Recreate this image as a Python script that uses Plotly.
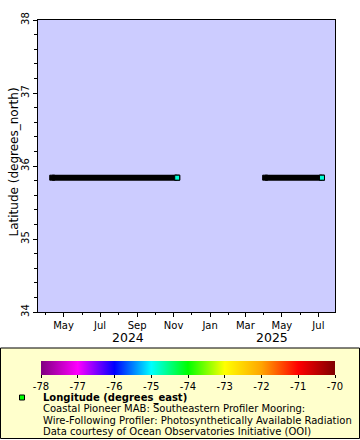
import plotly.graph_objects as go

# ---- data ----
deploy_start = ["2024-04-12", "2025-04-03"]
deploy_end = ["2024-11-07", "2025-07-07"]
latitude = [35.84, 35.84]          # degrees_north
longitude = [-74.84, -74.84]       # degrees_east
cbar_ticks = [-78, -77, -76, -75, -74, -73, -72, -71, -70]
cbar_labels = ["-78", "-77", "-76", "-75", "-74", "-73", "-72", "-71", "-70"]
year_labels = ["2024", "2025"]
year_label_dates = ["2024-08-16", "2025-04-15"]
y_title = "Latitude (degrees_north)"
legend_lines = [
    "<b>Longitude (degrees_east)</b>",
    "Coastal Pioneer MAB: Southeastern Profiler Mooring:",
    "Wire-Following Profiler: Photosynthetically Available Radiation",
    "Data courtesy of Ocean Observatories Initiative (OOI)",
]

rainbow = [
    [0.0, "#800080"], [0.125, "#ff00ff"], [0.25, "#0000ff"], [0.375, "#00ffff"],
    [0.5, "#00ff00"], [0.625, "#ffff00"], [0.75, "#ffa500"], [0.875, "#ff0000"],
    [1.0, "#800000"],
]

W, H = 360, 440
L, R, T, B = 38, 25, 20, 128
PW, PH = W - L - R, H - T - B


def px(x):
    return (x - L) / PW


def py(y):
    return (H - B - y) / PH


# band (deployment) x / y with breaks
bx, by = [], []
for s, e, la in zip(deploy_start, deploy_end, latitude):
    bx += [s, e, None]
    by += [la, la, None]

fig = go.Figure()
fig.add_trace(go.Scatter(
    x=bx, y=by, mode="lines+markers",
    line=dict(color="black", width=6),
    marker=dict(symbol="square", size=5, color="black", line=dict(color="black", width=1)),
    hoverinfo="skip", showlegend=False,
))
fig.add_trace(go.Scatter(
    x=deploy_end, y=latitude, mode="markers",
    marker=dict(
        symbol="square", size=5, color=longitude, cmin=-78, cmax=-70,
        colorscale=rainbow, line=dict(color="black", width=1),
        showscale=True,
        colorbar=dict(
            orientation="h", lenmode="pixels", len=294, thickness=14,
            x=px(188), xanchor="center", y=py(361), yanchor="top",
            xpad=0, ypad=0, outlinewidth=0,
            ticks="outside", ticklen=3, tickcolor="black",
            tickvals=cbar_ticks, ticktext=cbar_labels,
            tickfont=dict(family="DejaVu Sans", size=10, color="black"),
        ),
    ),
    showlegend=False,
))

# legend box
LEG_Y0, LEG_DY = 397.5, 11.5
fig.add_shape(type="rect", xref="paper", yref="paper",
              x0=px(0.5), x1=px(359.5), y0=py(438.5), y1=py(348),
              fillcolor="#ffffcc", line=dict(color="black", width=1), layer="below")
fig.add_shape(type="rect", xref="paper", yref="paper",
              x0=px(19.5), x1=px(24.5), y0=py(LEG_Y0 + 2.5), y1=py(LEG_Y0 - 2.5),
              fillcolor="#00ff00", line=dict(color="black", width=1))

for i, txt in enumerate(legend_lines):
    fig.add_annotation(
        text=txt, xref="paper", yref="paper", x=px(41.5), y=py(LEG_Y0 + LEG_DY * i),
        xanchor="left", yanchor="middle", showarrow=False, borderpad=0,
        font=dict(family="DejaVu Sans", size=10, color="black"),
    )

for lab, d in zip(year_labels, year_label_dates):
    fig.add_annotation(
        text=lab, x=d, xref="x", yref="paper", y=py(337), yanchor="middle",
        showarrow=False, font=dict(family="DejaVu Sans", size=12.5, color="black"),
    )

fig.add_annotation(
    text=y_title, xref="paper", yref="paper", x=px(13), y=py(162.5),
    xanchor="center", yanchor="middle", textangle=-90, showarrow=False,
    font=dict(family="DejaVu Sans", size=12, color="black"),
)

fig.update_layout(
    width=W, height=H, margin=dict(l=L, r=R, t=T, b=B, pad=0, autoexpand=False),
    paper_bgcolor="white", plot_bgcolor="#ccccff",
    font=dict(family="DejaVu Sans", color="black"),
    showlegend=False,
)
fig.update_xaxes(
    type="date", range=["2024-03-19 05:00", "2025-07-28 19:00"],
    tick0="2024-01-01", dtick="M2", tickformat="%b",
    ticks="outside", ticklen=4, tickcolor="black",
    minor=dict(dtick="M1", ticks="outside", ticklen=2, tickcolor="black"),
    showgrid=False, zeroline=False, automargin=False,
    showline=True, linecolor="black", linewidth=1, mirror=True,
    tickfont=dict(family="DejaVu Sans", size=10, color="black"),
)
fig.update_yaxes(
    range=[34, 38], dtick=1, tickangle=-90,
    ticks="outside", ticklen=4, tickcolor="black",
    minor=dict(dtick=0.2, ticks="outside", ticklen=3, tickcolor="black"),
    showgrid=False, zeroline=False, automargin=False,
    showline=True, linecolor="black", linewidth=1, mirror=True,
    tickfont=dict(family="DejaVu Sans", size=10, color="black"),
)

fig.write_html("out.html", config={"displayModeBar": False},
               post_script="document.body.style.margin='0px';")
